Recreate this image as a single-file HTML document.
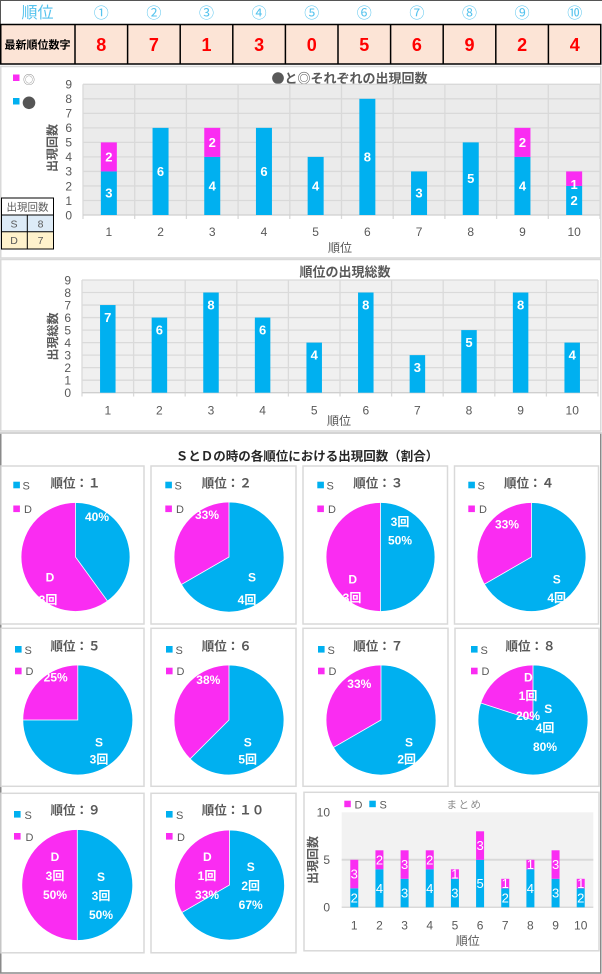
<!DOCTYPE html>
<html><head><meta charset="utf-8"><style>
html,body{margin:0;padding:0;background:#fff;}
svg{display:block;font-family:"Liberation Sans","Noto Sans CJK JP",sans-serif;}
</style></head><body>
<svg width="602" height="974" viewBox="0 0 602 974" xmlns="http://www.w3.org/2000/svg">
<rect width="602" height="974" fill="#fff"/>
<!-- top table -->
<line x1="0.5" y1="0" x2="0.5" y2="24" stroke="#555" stroke-width="1"/>
<line x1="0" y1="0.5" x2="602" y2="0.5" stroke="#555" stroke-width="1"/>
<g fill="#55C3EE" font-family="'Liberation Sans','Noto Sans CJK JP',sans-serif" text-anchor="middle">
<text x="37.5" y="18" font-size="16">順位</text>
<g font-size="15">
<text x="101.3" y="18">①</text><text x="153.9" y="18">②</text><text x="206.5" y="18">③</text><text x="259.1" y="18">④</text><text x="311.7" y="18">⑤</text><text x="364.3" y="18">⑥</text><text x="416.9" y="18">⑦</text><text x="469.5" y="18">⑧</text><text x="522.1" y="18">⑨</text><text x="574.7" y="18">⑩</text>
</g></g>
<rect x="0.75" y="24.5" width="600" height="39.5" fill="#FCE4D6" stroke="#000" stroke-width="1.5"/>
<g stroke="#000" stroke-width="1.5">
<line x1="75" y1="24" x2="75" y2="64"/><line x1="127.6" y1="24" x2="127.6" y2="64"/><line x1="180.2" y1="24" x2="180.2" y2="64"/><line x1="232.8" y1="24" x2="232.8" y2="64"/><line x1="285.4" y1="24" x2="285.4" y2="64"/><line x1="338" y1="24" x2="338" y2="64"/><line x1="390.6" y1="24" x2="390.6" y2="64"/><line x1="443.2" y1="24" x2="443.2" y2="64"/><line x1="495.8" y1="24" x2="495.8" y2="64"/><line x1="548.4" y1="24" x2="548.4" y2="64"/>
</g>
<text x="37.5" y="48.5" font-size="11" font-weight="bold" fill="#000" text-anchor="middle">最新順位数字</text>
<g fill="#FF0000" font-size="18" font-weight="bold" text-anchor="middle">
<text x="101.3" y="51">8</text><text x="153.9" y="51">7</text><text x="206.5" y="51">1</text><text x="259.1" y="51">3</text><text x="311.7" y="51">0</text><text x="364.3" y="51">5</text><text x="416.9" y="51">6</text><text x="469.5" y="51">9</text><text x="522.1" y="51">2</text><text x="574.7" y="51">4</text>
</g>

<!-- chart 1 -->
<rect x="0.75" y="66.5" width="600" height="191.5" fill="#fff" stroke="#d9d9d9" stroke-width="1.5"/>
<rect x="13" y="74.5" width="6.5" height="6.5" fill="#FA2CF2"/>
<text x="23" y="84" font-size="12" fill="#8c8c8c" font-family="'Noto Sans CJK JP',sans-serif">◎</text>
<rect x="13" y="98" width="6.5" height="6.5" fill="#00B0F0"/>
<text x="22" y="108.5" font-size="14" fill="#555" font-family="'Noto Sans CJK JP',sans-serif">●</text>
<text x="349.5" y="83" font-size="13" font-weight="bold" fill="#595959" text-anchor="middle" font-family="'Noto Sans CJK JP',sans-serif">●と◎それぞれの出現回数</text>
<rect x="83" y="84.3" width="517" height="130.7" fill="#ebebeb"/>
<g stroke="#d9d9d9" stroke-width="1.3">
<line x1="83" y1="200.48" x2="600" y2="200.48"/><line x1="83" y1="185.96" x2="600" y2="185.96"/><line x1="83" y1="171.43" x2="600" y2="171.43"/><line x1="83" y1="156.91" x2="600" y2="156.91"/><line x1="83" y1="142.39" x2="600" y2="142.39"/><line x1="83" y1="127.87" x2="600" y2="127.87"/><line x1="83" y1="113.35" x2="600" y2="113.35"/><line x1="83" y1="98.82" x2="600" y2="98.82"/><line x1="83" y1="84.3" x2="600" y2="84.3"/>
<line x1="83" y1="84.3" x2="83" y2="219"/><line x1="134.7" y1="84.3" x2="134.7" y2="219"/><line x1="186.4" y1="84.3" x2="186.4" y2="219"/><line x1="238.1" y1="84.3" x2="238.1" y2="219"/><line x1="289.8" y1="84.3" x2="289.8" y2="219"/><line x1="341.5" y1="84.3" x2="341.5" y2="219"/><line x1="393.2" y1="84.3" x2="393.2" y2="219"/><line x1="444.9" y1="84.3" x2="444.9" y2="219"/><line x1="496.6" y1="84.3" x2="496.6" y2="219"/><line x1="548.3" y1="84.3" x2="548.3" y2="219"/><line x1="600" y1="84.3" x2="600" y2="219"/>
<line x1="83" y1="215" x2="600" y2="215" stroke="#cfcfcf"/>
</g>
<g fill="#595959" font-size="12" text-anchor="end">
<text x="72" y="219.3">0</text><text x="72" y="204.8">1</text><text x="72" y="190.3">2</text><text x="72" y="175.7">3</text><text x="72" y="161.2">4</text><text x="72" y="146.7">5</text><text x="72" y="132.2">6</text><text x="72" y="117.7">7</text><text x="72" y="103.1">8</text><text x="72" y="88.6">9</text>
</g>
<text transform="translate(56.5,148) rotate(-90)" font-size="12" font-weight="bold" fill="#595959" text-anchor="middle">出現回数</text>
<g fill="#00B0F0">
<rect x="100.85" y="171.43" width="16" height="43.57"/><rect x="152.55" y="127.87" width="16" height="87.13"/><rect x="204.25" y="156.91" width="16" height="58.09"/><rect x="255.95" y="127.87" width="16" height="87.13"/><rect x="307.65" y="156.91" width="16" height="58.09"/><rect x="359.35" y="98.82" width="16" height="116.18"/><rect x="411.05" y="171.43" width="16" height="43.57"/><rect x="462.75" y="142.39" width="16" height="72.61"/><rect x="514.45" y="156.91" width="16" height="58.09"/><rect x="566.15" y="185.96" width="16" height="29.04"/>
</g>
<g fill="#FA2CF2">
<rect x="100.85" y="142.39" width="16" height="29.04"/><rect x="204.25" y="127.87" width="16" height="29.04"/><rect x="514.45" y="127.87" width="16" height="29.04"/><rect x="566.15" y="171.43" width="16" height="14.52"/>
</g>
<g fill="#fff" font-size="13" font-weight="bold" text-anchor="middle">
<text x="108.85" y="197.7">3</text><text x="108.85" y="161.4">2</text><text x="160.55" y="175.9">6</text><text x="212.25" y="190.5">4</text><text x="212.25" y="146.9">2</text><text x="263.95" y="175.9">6</text><text x="315.65" y="190.5">4</text><text x="367.35" y="161.4">8</text><text x="419.05" y="197.7">3</text><text x="470.75" y="183.2">5</text><text x="522.45" y="190.5">4</text><text x="522.45" y="146.9">2</text><text x="574.15" y="205">2</text><text x="574.15" y="189">1</text>
</g>
<g fill="#595959" font-size="12" text-anchor="middle">
<text x="108.85" y="236">1</text><text x="160.55" y="236">2</text><text x="212.25" y="236">3</text><text x="263.95" y="236">4</text><text x="315.65" y="236">5</text><text x="367.35" y="236">6</text><text x="419.05" y="236">7</text><text x="470.75" y="236">8</text><text x="522.45" y="236">9</text><text x="574.15" y="236">10</text>
<text x="340" y="252">順位</text>
</g>
<!-- small table -->
<rect x="1.5" y="198" width="52" height="17" fill="#fff"/>
<rect x="1.5" y="215" width="52" height="16.7" fill="#DDEBF7"/>
<rect x="1.5" y="231.7" width="52" height="17.3" fill="#FFF2CC"/>
<g stroke="#000" stroke-width="1" fill="none">
<rect x="1.5" y="198" width="52" height="51"/>
<line x1="1.5" y1="215" x2="53.5" y2="215"/><line x1="1.5" y1="231.7" x2="53.5" y2="231.7"/><line x1="27.3" y1="215" x2="27.3" y2="249"/>
</g>
<g fill="#595959" font-size="10.5" text-anchor="middle">
<text x="27.5" y="210.5">出現回数</text><text x="14" y="227.5">S</text><text x="40.5" y="227.5">8</text><text x="14" y="244">D</text><text x="40.5" y="244">7</text>
</g>

<!-- chart 2 -->
<rect x="0.75" y="259.5" width="600" height="171.5" fill="#fff" stroke="#d9d9d9" stroke-width="1.5"/>
<text x="345" y="276.5" font-size="13" font-weight="bold" fill="#595959" text-anchor="middle">順位の出現総数</text>
<rect x="82" y="280" width="516" height="112.7" fill="#f0f0f0"/>
<g stroke="#dadada" stroke-width="1.3">
<line x1="82" y1="380.18" x2="598" y2="380.18"/><line x1="82" y1="367.66" x2="598" y2="367.66"/><line x1="82" y1="355.13" x2="598" y2="355.13"/><line x1="82" y1="342.61" x2="598" y2="342.61"/><line x1="82" y1="330.09" x2="598" y2="330.09"/><line x1="82" y1="317.57" x2="598" y2="317.57"/><line x1="82" y1="305.05" x2="598" y2="305.05"/><line x1="82" y1="292.52" x2="598" y2="292.52"/><line x1="82" y1="280" x2="598" y2="280"/>
<line x1="82" y1="280" x2="82" y2="396.5"/><line x1="133.6" y1="280" x2="133.6" y2="396.5"/><line x1="185.2" y1="280" x2="185.2" y2="396.5"/><line x1="236.8" y1="280" x2="236.8" y2="396.5"/><line x1="288.4" y1="280" x2="288.4" y2="396.5"/><line x1="340" y1="280" x2="340" y2="396.5"/><line x1="391.6" y1="280" x2="391.6" y2="396.5"/><line x1="443.2" y1="280" x2="443.2" y2="396.5"/><line x1="494.8" y1="280" x2="494.8" y2="396.5"/><line x1="546.4" y1="280" x2="546.4" y2="396.5"/><line x1="598" y1="280" x2="598" y2="396.5"/>
<line x1="82" y1="392.7" x2="598" y2="392.7" stroke="#cfcfcf"/>
</g>
<g fill="#595959" font-size="12" text-anchor="end">
<text x="71" y="397">0</text><text x="71" y="384.5">1</text><text x="71" y="372">2</text><text x="71" y="359.4">3</text><text x="71" y="346.9">4</text><text x="71" y="334.4">5</text><text x="71" y="321.9">6</text><text x="71" y="309.4">7</text><text x="71" y="296.8">8</text><text x="71" y="284.3">9</text>
</g>
<text transform="translate(57,336.5) rotate(-90)" font-size="12" font-weight="bold" fill="#595959" text-anchor="middle">出現総数</text>
<g fill="#00B0F0">
<rect x="100.05" y="305.05" width="15.5" height="87.65"/><rect x="151.65" y="317.57" width="15.5" height="75.13"/><rect x="203.25" y="292.52" width="15.5" height="100.18"/><rect x="254.85" y="317.57" width="15.5" height="75.13"/><rect x="306.45" y="342.61" width="15.5" height="50.09"/><rect x="358.05" y="292.52" width="15.5" height="100.18"/><rect x="409.65" y="355.13" width="15.5" height="37.57"/><rect x="461.25" y="330.09" width="15.5" height="62.61"/><rect x="512.85" y="292.52" width="15.5" height="100.18"/><rect x="564.45" y="342.61" width="15.5" height="50.09"/>
</g>
<g fill="#fff" font-size="13" font-weight="bold" text-anchor="middle">
<text x="107.8" y="322">7</text><text x="159.4" y="334.5">6</text><text x="211" y="309.5">8</text><text x="262.6" y="334.5">6</text><text x="314.2" y="359.6">4</text><text x="365.8" y="309.5">8</text><text x="417.4" y="372.1">3</text><text x="469" y="347.1">5</text><text x="520.6" y="309.5">8</text><text x="572.2" y="359.6">4</text>
</g>
<g fill="#595959" font-size="12" text-anchor="middle">
<text x="107.8" y="414.5">1</text><text x="159.4" y="414.5">2</text><text x="211" y="414.5">3</text><text x="262.6" y="414.5">4</text><text x="314.2" y="414.5">5</text><text x="365.8" y="414.5">6</text><text x="417.4" y="414.5">7</text><text x="469" y="414.5">8</text><text x="520.6" y="414.5">9</text><text x="572.2" y="414.5">10</text>
<text x="339" y="425">順位</text>
</g>

<!-- section 3 -->
<rect x="0.75" y="433" width="600" height="540" fill="#fff" stroke="#8a8a8a" stroke-width="1.5"/>
<line x1="0" y1="433" x2="602" y2="433" stroke="#d9d9d9" stroke-width="1.5"/>
<text x="307" y="460.5" font-size="12.5" font-weight="bold" fill="#262626" text-anchor="middle">ＳとＤの時の各順位における出現回数（割合）</text>
<g fill="#fff" stroke="#d9d9d9" stroke-width="1.5">
<rect x="1" y="466" width="143" height="158"/><rect x="151" y="466" width="145" height="158"/><rect x="303" y="466" width="144.5" height="158"/><rect x="454.5" y="466" width="144" height="158"/>
<rect x="1" y="628.3" width="143" height="158"/><rect x="151" y="628.3" width="145" height="158"/><rect x="303" y="628.3" width="145" height="158"/><rect x="455" y="628.3" width="144" height="158"/>
<rect x="1" y="793.3" width="143" height="159.5"/><rect x="151" y="793.3" width="145" height="159.5"/><rect x="304" y="792.3" width="295" height="158.5"/>
</g>
<!-- pie legends & titles -->
<g font-size="11" fill="#595959">
<rect x="13.3" y="481.7" width="6.6" height="6.6" fill="#00B0F0"/><text x="22.5" y="489.5">S</text><rect x="13.3" y="505.5" width="6.6" height="6.6" fill="#FA2CF2"/><text x="24" y="513">D</text>
<rect x="165.3" y="481.7" width="6.6" height="6.6" fill="#00B0F0"/><text x="174.5" y="489.5">S</text><rect x="165.3" y="505.5" width="6.6" height="6.6" fill="#FA2CF2"/><text x="176" y="513">D</text>
<rect x="317.3" y="481.7" width="6.6" height="6.6" fill="#00B0F0"/><text x="326.5" y="489.5">S</text><rect x="317.3" y="505.5" width="6.6" height="6.6" fill="#FA2CF2"/><text x="328" y="513">D</text>
<rect x="468.3" y="481.7" width="6.6" height="6.6" fill="#00B0F0"/><text x="477.5" y="489.5">S</text><rect x="468.3" y="505.5" width="6.6" height="6.6" fill="#FA2CF2"/><text x="479" y="513">D</text>

<rect x="15" y="646" width="6.6" height="6.6" fill="#00B0F0"/><text x="24.5" y="654">S</text><rect x="15" y="667.7" width="6.6" height="6.6" fill="#FA2CF2"/><text x="25.5" y="675">D</text>
<rect x="166" y="646" width="6.6" height="6.6" fill="#00B0F0"/><text x="175.5" y="654">S</text><rect x="166" y="667.7" width="6.6" height="6.6" fill="#FA2CF2"/><text x="176.5" y="675">D</text>
<rect x="318" y="646" width="6.6" height="6.6" fill="#00B0F0"/><text x="327.5" y="654">S</text><rect x="318" y="667.7" width="6.6" height="6.6" fill="#FA2CF2"/><text x="328.5" y="675">D</text>
<rect x="471" y="646" width="6.6" height="6.6" fill="#00B0F0"/><text x="480.5" y="654">S</text><rect x="471" y="667.7" width="6.6" height="6.6" fill="#FA2CF2"/><text x="481.5" y="675">D</text>

<rect x="14" y="811" width="6.6" height="6.6" fill="#00B0F0"/><text x="24.5" y="819">S</text><rect x="14" y="833" width="6.6" height="6.6" fill="#FA2CF2"/><text x="25.5" y="841">D</text>
<rect x="166" y="811" width="6.6" height="6.6" fill="#00B0F0"/><text x="176" y="819">S</text><rect x="166" y="833" width="6.6" height="6.6" fill="#FA2CF2"/><text x="177" y="841">D</text>
</g>
<g font-size="12.5" font-weight="bold" fill="#595959">
<text x="50.5" y="487.3">順位：１</text><text x="201.7" y="487.3">順位：２</text><text x="353.3" y="487.3">順位：３</text><text x="504" y="487.3">順位：４</text>
<text x="50.5" y="650.6">順位：５</text><text x="201.7" y="650.6">順位：６</text><text x="353.3" y="650.6">順位：７</text><text x="505.5" y="650.6">順位：８</text>
<text x="50.5" y="814.6">順位：９</text><text x="201.7" y="814.6">順位：１０</text>
</g>
<!-- pies -->
<g stroke="#fff" stroke-width="0.8">
<circle cx="75.5" cy="557" r="54.5" fill="#FA2CF2"/>
<path d="M75.5 557 L75.5 502.5 A54.5 54.5 0 0 1 107.53 601.09 Z" fill="#00B0F0"/>
<circle cx="229" cy="557" r="55" fill="#FA2CF2"/>
<path d="M229 557 L229 502 A55 55 0 1 1 181.37 584.5 Z" fill="#00B0F0"/>
<circle cx="380.5" cy="557" r="54.5" fill="#FA2CF2"/>
<path d="M380.5 557 L380.5 502.5 A54.5 54.5 0 0 1 380.5 611.5 Z" fill="#00B0F0"/>
<circle cx="531.5" cy="557" r="54.5" fill="#FA2CF2"/>
<path d="M531.5 557 L531.5 502.5 A54.5 54.5 0 1 1 484.3 584.25 Z" fill="#00B0F0"/>

<circle cx="77.8" cy="720" r="55" fill="#FA2CF2"/>
<path d="M77.8 720 L77.8 665 A55 55 0 1 1 22.8 720 Z" fill="#00B0F0"/>
<circle cx="229" cy="720" r="55" fill="#FA2CF2"/>
<path d="M229 720 L229 665 A55 55 0 1 1 190.11 758.89 Z" fill="#00B0F0"/>
<circle cx="381" cy="720" r="55" fill="#FA2CF2"/>
<path d="M381 720 L381 665 A55 55 0 1 1 333.37 747.5 Z" fill="#00B0F0"/>
<circle cx="533" cy="720" r="55" fill="#FA2CF2"/>
<path d="M533 720 L533 665 A55 55 0 1 1 480.69 703 Z" fill="#00B0F0"/>

<circle cx="77.3" cy="885" r="55.5" fill="#FA2CF2"/>
<path d="M77.3 885 L77.3 829.5 A55.5 55.5 0 0 1 77.3 940.5 Z" fill="#00B0F0"/>
<circle cx="229.5" cy="885" r="55" fill="#FA2CF2"/>
<path d="M229.5 885 L229.5 830 A55 55 0 1 1 181.87 912.5 Z" fill="#00B0F0"/>
</g>
<g fill="#fff" font-size="12" font-weight="bold" text-anchor="middle">
<text x="97" y="521">40%</text><text x="50" y="581.5">D</text><text x="48" y="604">3回</text>
<text x="207" y="519">33%</text><text x="252" y="581.5">S</text><text x="247" y="604">4回</text>
<text x="400" y="526">3回</text><text x="400" y="544.5">50%</text><text x="352.7" y="583.5">D</text><text x="352" y="602">3回</text>
<text x="507" y="528.5">33%</text><text x="556.7" y="583.5">S</text><text x="556.7" y="602">4回</text>
<text x="55.7" y="681.5">25%</text><text x="99" y="746.5">S</text><text x="99" y="763.5">3回</text>
<text x="208.3" y="684">38%</text><text x="247.7" y="746.5">S</text><text x="247.7" y="763.5">5回</text>
<text x="359.3" y="688">33%</text><text x="409" y="746.5">S</text><text x="406.7" y="763.5">2回</text>
<text x="528.3" y="681.5">D</text><text x="528" y="700">1回</text><text x="528" y="720">20%</text><text x="548.3" y="713">S</text><text x="545" y="732">4回</text><text x="545" y="751">80%</text>
<text x="55" y="861">D</text><text x="55" y="880">3回</text><text x="55" y="899">50%</text><text x="101" y="881">S</text><text x="101" y="900">3回</text><text x="101" y="919">50%</text>
<text x="207.3" y="861">D</text><text x="207" y="880">1回</text><text x="207" y="899">33%</text><text x="250.7" y="871">S</text><text x="250.7" y="890">2回</text><text x="250.7" y="909">67%</text>
</g>

<!-- summary chart -->
<rect x="344.3" y="800.7" width="6.5" height="6.5" fill="#FA2CF2"/>
<text x="354.5" y="808.5" font-size="11" fill="#595959">D</text>
<rect x="369.3" y="800.7" width="6.5" height="6.5" fill="#00B0F0"/>
<text x="379.5" y="808.5" font-size="11" fill="#595959">S</text>
<text x="464.5" y="808" font-size="10.5" fill="#8c8c8c" text-anchor="middle" letter-spacing="1.5">まとめ</text>
<rect x="341.7" y="812.3" width="251.6" height="95" fill="#f2f2f2"/>
<line x1="341.7" y1="859.8" x2="593.3" y2="859.8" stroke="#d9d9d9" stroke-width="2"/>
<line x1="341.7" y1="907.3" x2="593.3" y2="907.3" stroke="#d9d9d9" stroke-width="1.5"/>
<g fill="#595959" font-size="12" text-anchor="end">
<text x="330" y="816.5">10</text><text x="330" y="864">5</text><text x="330" y="911.5">0</text>
</g>
<text transform="translate(317,860) rotate(-90)" font-size="12" font-weight="bold" fill="#595959" text-anchor="middle">出現回数</text>
<g fill="#00B0F0">
<rect x="350.28" y="888.3" width="8" height="19"/><rect x="375.44" y="869.3" width="8" height="38"/><rect x="400.6" y="878.8" width="8" height="28.5"/><rect x="425.76" y="869.3" width="8" height="38"/><rect x="450.92" y="878.8" width="8" height="28.5"/><rect x="476.08" y="859.8" width="8" height="47.5"/><rect x="501.24" y="888.3" width="8" height="19"/><rect x="526.4" y="869.3" width="8" height="38"/><rect x="551.56" y="878.8" width="8" height="28.5"/><rect x="576.72" y="888.3" width="8" height="19"/>
</g>
<g fill="#FA2CF2">
<rect x="350.28" y="859.8" width="8" height="28.5"/><rect x="375.44" y="850.3" width="8" height="19"/><rect x="400.6" y="850.3" width="8" height="28.5"/><rect x="425.76" y="850.3" width="8" height="19"/><rect x="450.92" y="869.3" width="8" height="9.5"/><rect x="476.08" y="831.3" width="8" height="28.5"/><rect x="501.24" y="878.8" width="8" height="9.5"/><rect x="526.4" y="859.8" width="8" height="9.5"/><rect x="551.56" y="850.3" width="8" height="28.5"/><rect x="576.72" y="878.8" width="8" height="9.5"/>
</g>
<g fill="#fff" font-size="13" text-anchor="middle">
<text x="354.28" y="902.3">2</text><text x="354.28" y="878.6">3</text>
<text x="379.44" y="892.8">4</text><text x="379.44" y="864.3">2</text>
<text x="404.6" y="897.6">3</text><text x="404.6" y="869.1">3</text>
<text x="429.76" y="892.8">4</text><text x="429.76" y="864.3">2</text>
<text x="454.92" y="897.6">3</text><text x="454.92" y="878.6">1</text>
<text x="480.08" y="888.1">5</text><text x="480.08" y="850.1">3</text>
<text x="505.24" y="902.3">2</text><text x="505.24" y="888.1">1</text>
<text x="530.4" y="892.8">4</text><text x="530.4" y="869.1">1</text>
<text x="555.56" y="897.6">3</text><text x="555.56" y="869.1">3</text>
<text x="580.72" y="902.3">2</text><text x="580.72" y="888.1">1</text>
</g>
<g fill="#595959" font-size="12" text-anchor="middle">
<text x="354.28" y="929.5">1</text><text x="379.44" y="929.5">2</text><text x="404.6" y="929.5">3</text><text x="429.76" y="929.5">4</text><text x="454.92" y="929.5">5</text><text x="480.08" y="929.5">6</text><text x="505.24" y="929.5">7</text><text x="530.4" y="929.5">8</text><text x="555.56" y="929.5">9</text><text x="580.72" y="929.5">10</text>
<text x="467.7" y="945">順位</text>
</g>
</svg>
</body></html>
